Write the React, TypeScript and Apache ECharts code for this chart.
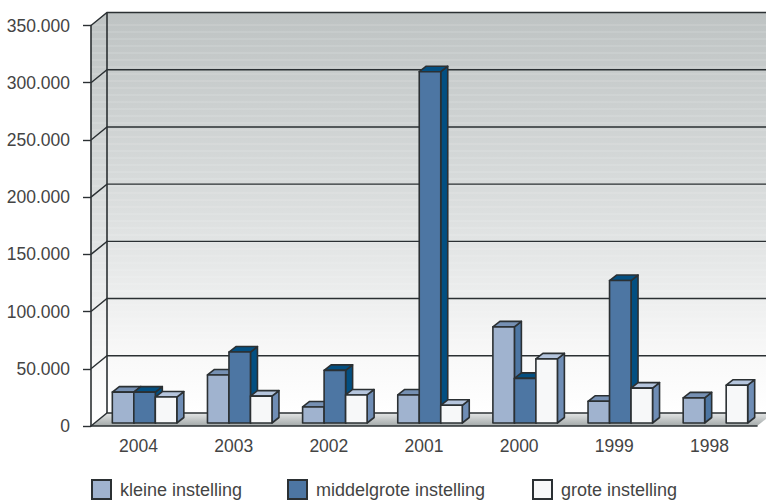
import React, { useEffect, useRef } from "react";
import * as echarts from "echarts";

const categories = ["2004", "2003", "2002", "2001", "2000", "1999", "1998"];
const tickValues = [0, 50000, 100000, 150000, 200000, 250000, 300000, 350000];
const kleine = [27000, 42000, 14000, 24500, 84000, 19000, 22000];
const middelgrote = [27000, 62000, 46000, 307000, 39000, 124500, null];
const grote = [22700, 23500, 24500, 15500, 56000, 30500, 33000];

const FONT = "'Liberation Sans', sans-serif";
const BAR_W = 21.5;
const DX = 7;
const DY = 5.5;
const INK = "#2b3033";
const WALL_DX = 16;
const WALL_DY = 13;
const PAGE_W = 766;

function fmt(v: number) {
  return v === 0 ? "0" : v.toLocaleString("de-DE");
}

function barRender(slot: number, front: string, top: string, side: string) {
  return (_params: any, api: any) => {
    const v = api.value(1);
    if (v == null || isNaN(v)) return { type: "group", children: [] };
    const base = api.coord([api.value(0), 0]);
    const head = api.coord([api.value(0), v]);
    const x0 = base[0] + 6 + (slot - 1.5) * BAR_W;
    const x1 = x0 + BAR_W;
    const yb = base[1] - 3;
    const yt = head[1] - 3;
    const style = (fill: string) => ({ fill, stroke: INK, lineWidth: 1.6, lineJoin: "round" });
    return {
      type: "group",
      children: [
        { type: "polygon", shape: { points: [[x1, yb], [x1 + DX, yb - DY], [x1 + DX, yt - DY], [x1, yt]] }, style: style(side) },
        { type: "polygon", shape: { points: [[x0, yt], [x0 + DX, yt - DY], [x1 + DX, yt - DY], [x1, yt]] }, style: style(top) },
        { type: "rect", shape: { x: x0, y: yt, width: BAR_W, height: yb - yt }, style: style(front) },
      ],
    };
  };
}

function wallRender(params: any) {
  const { x: xl, y: yt, width, height } = params.coordSys;
  const yb = yt + height;
  const right = xl + width;
  const wallH = height;
  const grad = new echarts.graphic.LinearGradient(0, 0, 0, 1, [
    { offset: 0, color: "#bec3c3" },
    { offset: 0.5, color: "#dcdfdf" },
    { offset: 0.85, color: "#f8f8f8" },
    { offset: 1, color: "#ffffff" },
  ]);
  const floorGrad = new echarts.graphic.LinearGradient(0, 0, 0, 1, [
    { offset: 0, color: "#e4e6e6" },
    { offset: 1, color: "#a3a9a9" },
  ]);
  const stripes: any[] = [];
  for (let y = yt - WALL_DY + 5; y < yb - WALL_DY - 60; y += 7) {
    stripes.push({
      type: "rect",
      shape: { x: xl, y, width: PAGE_W - xl, height: 1 },
      style: { fill: "#ffffff", opacity: 0.22 },
    });
  }
  return {
    type: "group",
    children: [
      { type: "rect", shape: { x: xl + WALL_DX, y: yt - WALL_DY, width: PAGE_W - xl - WALL_DX, height: wallH }, style: { fill: grad } },
      { type: "polygon", shape: { points: [[xl, yb], [xl + WALL_DX, yb - WALL_DY], [xl + WALL_DX, yt - WALL_DY], [xl, yt]] }, style: { fill: grad } },
      ...stripes.slice(1),
      { type: "polygon", shape: { points: [[xl, yb], [xl + WALL_DX, yb - WALL_DY], [PAGE_W, yb - WALL_DY], [PAGE_W, yb - 7], [right, yb]] }, style: { fill: floorGrad } },
      { type: "line", shape: { x1: xl + WALL_DX, y1: yt - WALL_DY, x2: xl + WALL_DX, y2: yb - WALL_DY }, style: { stroke: INK, lineWidth: 1.6 } },
      { type: "polygon", shape: { points: [[xl + WALL_DX, yt - WALL_DY], [xl, yt], [xl, yb]] }, style: { fill: "none" } },
    ],
  };
}

function gridRender(params: any, api: any) {
  const xl = params.coordSys.x;
  const y = api.coord([0, api.value(0)])[1];
  return {
    type: "polyline",
    shape: { points: [[xl, y], [xl + WALL_DX, y - WALL_DY], [PAGE_W, y - WALL_DY]] },
    style: { fill: "none", stroke: INK, lineWidth: 1.4 },
  };
}

const legendNames = ["kleine instelling", "middelgrote instelling", "grote instelling"];
const legendLefts = [91, 287, 532];

export default function App() {
  const ref = useRef<HTMLDivElement>(null);
  useEffect(() => {
    const chart = echarts.init(ref.current!, undefined, { renderer: "svg" });
    const mk = (data: any[], idx: number, colors: string[]) => ({
      type: "custom",
      name: legendNames[idx],
      z: 4,
      clip: false,
      renderItem: barRender(idx, colors[0], colors[1], colors[2]),
      data: data.map((v, i) => [i, v]),
      encode: { x: 0, y: 1 },
      itemStyle: { color: colors[0], borderColor: INK, borderWidth: 1.4 },
    });
    chart.setOption({
      animation: false,
      grid: { left: 91, right: 9, top: 25.5, bottom: 74 },
      xAxis: {
        type: "category",
        data: categories,
        z: 3,
        axisLine: { lineStyle: { color: INK, width: 1.6 } },
        axisTick: { length: 8, lineStyle: { color: INK, width: 1.4 } },
        axisLabel: { fontFamily: FONT, fontSize: 17.5, color: "#444", margin: 11 },
      },
      yAxis: {
        type: "value",
        min: 0,
        max: 350000,
        interval: 50000,
        z: 3,
        splitLine: { show: false },
        axisLine: { show: true, lineStyle: { color: INK, width: 1.6 } },
        axisTick: { show: true, length: 8, lineStyle: { color: INK, width: 1.4 } },
        axisLabel: { fontFamily: FONT, fontSize: 17.5, color: "#444", margin: 21, formatter: (v: number) => fmt(v) },
      },
      legend: legendNames.map((n, i) => ({
        data: [{ name: n, icon: "rect" }],
        left: legendLefts[i],
        top: 479,
        itemWidth: 19,
        itemHeight: 19,
        padding: 0,
        selectedMode: false,
        textStyle: { fontFamily: FONT, fontSize: 18, color: "#444", padding: [0, 0, 0, 4] },
      })),
      series: [
        { type: "custom", z: 1, clip: false, silent: true, renderItem: wallRender, data: [[0, 0]], encode: { x: 0, y: 1 } },
        { type: "custom", z: 2, clip: false, silent: true, renderItem: gridRender, data: tickValues.map((t) => [t]), encode: { y: 0 } },
        mk(kleine, 0, ["#a0b3cf", "#7690b3", "#4d76a3"]),
        mk(middelgrote, 1, ["#4d76a3", "#034f81", "#034f81"]),
        mk(grote, 2, ["#f7f8f9", "#b5c5dd", "#6f8db5"]),
      ],
    });
    return () => chart.dispose();
  }, []);
  return <div ref={ref} style={{ width: 766, height: 500, position: "absolute", left: 0, top: 0 }} />;
}
